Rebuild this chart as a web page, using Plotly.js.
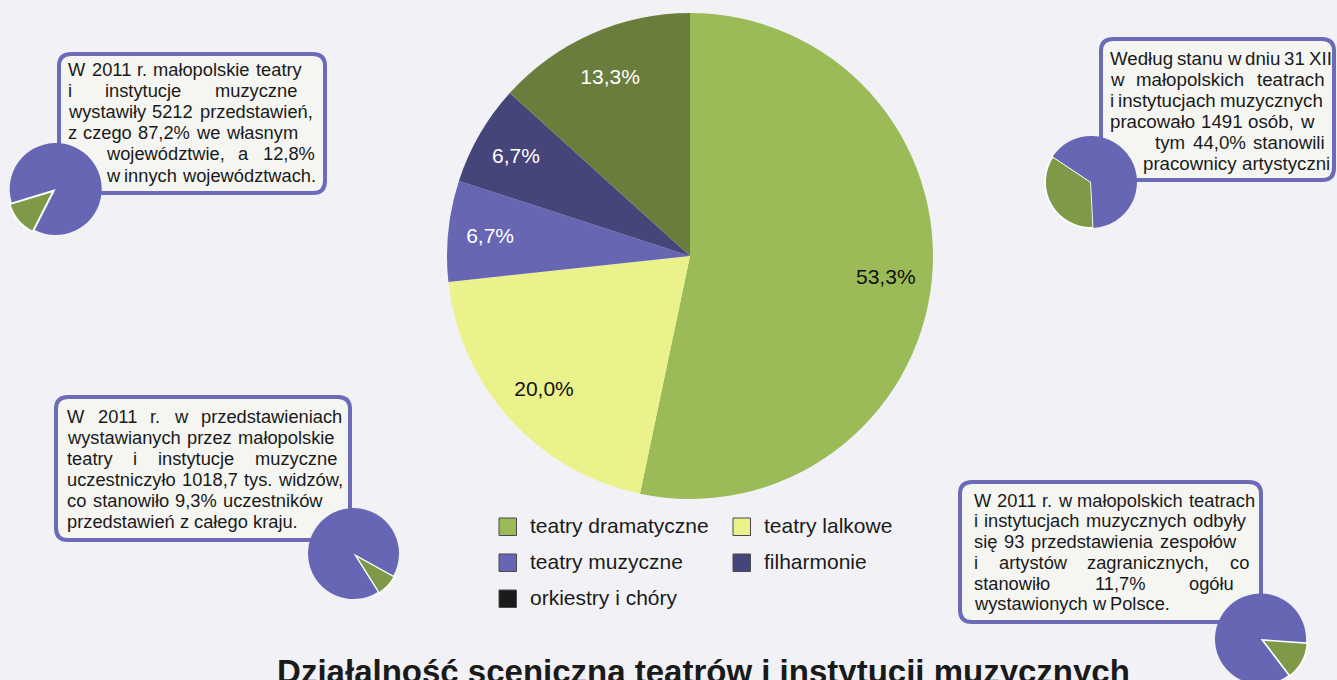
<!DOCTYPE html>
<html><head><meta charset="utf-8">
<script src="https://cdn.plot.ly/plotly-3.0.1.min.js"></script>
<style>html,body{margin:0;padding:0;overflow:hidden;background:#f2f2f6}#chart{width:1337px;height:690px}</style>
</head><body><div id="chart"></div><script>
// ---------- data ----------
const categories = ['teatry dramatyczne', 'teatry lalkowe', 'teatry muzyczne', 'filharmonie', 'orkiestry i chóry'];
const shares = [53.3, 20.0, 6.7, 6.7, 13.3];
const sliceColors = ['#9bbb59', '#ecf28b', '#6766b3', '#45457a', '#6a7d3d'];
const legendColors = ['#9bbb59', '#ecf28b', '#6766b3', '#45457a', '#1a1a1a'];
const labelColors = ['#111111', '#111111', '#ffffff', '#ffffff', '#ffffff'];

const smallLabels = ['wyróżnione', 'pozostałe'];
const performancesShares = [12.8, 87.2];
const staffShares = [35.2, 64.8];
const audienceShares = [8.0, 92.0];
const foreignShares = [13.5, 86.5];
const smallColors = ['#7e9a48', '#6766b4'];

const titleText = 'Działalność sceniczna teatrów i instytucji muzycznych';
const box1Lines = ['W 2011 r. małopolskie teatry', 'i instytucje muzyczne', 'wystawiły 5212 przedstawień,', 'z czego 87,2% we własnym', 'województwie, a 12,8%', 'w innych województwach.'];
const box2Lines = ['Według stanu w dniu 31 XII', 'w małopolskich teatrach', 'i instytucjach muzycznych', 'pracowało 1491 osób, w', 'tym 44,0% stanowili', 'pracownicy artystyczni'];
const box3Lines = ['W 2011 r. w przedstawieniach', 'wystawianych przez małopolskie', 'teatry i instytucje muzyczne', 'uczestniczyło 1018,7 tys. widzów,', 'co stanowiło 9,3% uczestników', 'przedstawień z całego kraju.'];
const box4Lines = ['W 2011 r. w małopolskich teatrach', 'i instytucjach muzycznych odbyły', 'się 93 przedstawienia zespołów', 'i artystów zagranicznych, co', 'stanowiło 11,7% ogółu', 'wystawionych w Polsce.'];

// ---------- layout helpers ----------
const W = 1337, H = 690;
const px = x => x / W, py = y => 1 - y / H;
const FONT = '"Liberation Sans", Arial, sans-serif';
const ctx = document.createElement('canvas').getContext('2d');

function domainFor(cx, cy, r, pull) {
  const R = r * (1 + (pull || 0));
  return {x: [px(cx - R), px(cx + R)], y: [py(cy + R), py(cy - R)]};
}
function rrect(x0, y0, x1, y1, r) {
  const P = (x, y) => px(x) + ',' + py(y);
  return 'M' + P(x0 + r, y0) + ' L' + P(x1 - r, y0) + ' Q' + P(x1, y0) + ' ' + P(x1, y0 + r) +
    ' L' + P(x1, y1 - r) + ' Q' + P(x1, y1) + ' ' + P(x1 - r, y1) +
    ' L' + P(x0 + r, y1) + ' Q' + P(x0, y1) + ' ' + P(x0, y1 - r) +
    ' L' + P(x0, y0 + r) + ' Q' + P(x0, y0) + ' ' + P(x0 + r, y0) + ' Z';
}

const annotations = [];
function addTextBlock(lines, spec) {
  const fs = spec.fs;
  ctx.font = fs + 'px "Liberation Sans"';
  const spaceW = ctx.measureText(' ').width;
  lines.forEach((line, i) => {
    const words = line.split(' ');
    const widths = words.map(w => ctx.measureText(w).width);
    const sum = widths.reduce((a, b) => a + b, 0);
    const x0 = spec.x0[i], x1 = spec.x1[i];
    let gap = spaceW;
    if (x1 != null && words.length > 1) gap = Math.max(spaceW * 0.6, (x1 - x0 - sum) / (words.length - 1));
    const base = spec.base + i * spec.lh;
    let pos = x0;
    words.forEach((w, k) => {
      annotations.push({
        xref: 'paper', yref: 'paper', x: px(pos), y: py(base - 0.35 * fs),
        xanchor: 'left', yanchor: 'middle', showarrow: false, text: w,
        borderpad: 0, borderwidth: 0,
        font: {family: FONT, size: fs, color: '#1a1a1a'}
      });
      pos += widths[k] + gap;
    });
  });
}

addTextBlock(box1Lines, {fs: 18.3, x0: [68, 68, 68, 68, 106, 106], x1: [302, 297, 313, 297, 315, null], base: 76, lh: 21.1});
addTextBlock(box2Lines, {fs: 18.7, x0: [1110, 1110, 1110, 1110, 1155, 1143], x1: [1332, 1325, 1323, 1313, 1325, null], base: 65, lh: 21});
addTextBlock(box3Lines, {fs: 18.3, x0: [67, 67, 67, 67, 67, 67], x1: [342, 335, 337, 342, 323, null], base: 423.3, lh: 21});
addTextBlock(box4Lines, {fs: 18.3, x0: [974, 974, 974, 974, 974, 974], x1: [1255, 1246, 1236, 1249, 1234, null], base: 506.7, lh: 20.7});

const shapes = [];
const boxLine = {color: '#6b6bb8', width: 4};
const boxFill = '#f5f6f2';
[[59, 54, 325, 193], [1101, 39, 1334, 180], [56, 397, 350, 540], [960, 482, 1261, 622]].forEach(b => {
  shapes.push({type: 'path', xref: 'paper', yref: 'paper', path: rrect(b[0], b[1], b[2], b[3], 12),
    line: boxLine, fillcolor: boxFill, layer: 'below'});
});

// custom legend (2 columns x 3 rows)
const legCols = [499, 733], legRows = [518, 554, 590], legSize = 17.5, legFS = 21;
categories.forEach((c, i) => {
  const col = i % 2, row = Math.floor(i / 2);
  const sx = legCols[col], sy = legRows[row];
  shapes.push({type: 'rect', xref: 'paper', yref: 'paper', x0: px(sx), x1: px(sx + legSize), y0: py(sy + legSize), y1: py(sy),
    line: {color: '#4a4a4a', width: 1}, fillcolor: legendColors[i], layer: 'below'});
  annotations.push({xref: 'paper', yref: 'paper', x: px(sx + 31), y: py(sy + 15 - 0.35 * legFS),
    xanchor: 'left', yanchor: 'middle', showarrow: false, text: c, borderpad: 0, borderwidth: 0,
    font: {family: FONT, size: legFS, color: '#1a1a1a'}});
});

// ---------- traces ----------
const mainDomain = domainFor(690, 256, 243, 0);
const labelsText = shares.map(v => v.toFixed(1).replace('.', ',') + '%');
const traces = [
  {type: 'pie', values: shares, labels: categories, sort: false, direction: 'clockwise', rotation: 0,
    marker: {colors: sliceColors, line: {width: 0}}, textinfo: 'none', hoverinfo: 'label+percent',
    domain: mainDomain, showlegend: false},
  {type: 'pie', values: shares, labels: categories, sort: false, direction: 'clockwise', rotation: 0, hole: 0.62,
    marker: {colors: shares.map(() => 'rgba(0,0,0,0)'), line: {width: 0}}, text: labelsText, textinfo: 'text',
    textposition: 'inside', insidetextorientation: 'horizontal',
    textfont: {family: FONT, size: 21, color: labelColors}, hoverinfo: 'skip',
    domain: mainDomain, showlegend: false}
];
function smallPie(vals, cx, cy, r, rot, pull) {
  return {type: 'pie', values: vals, labels: smallLabels, sort: false, direction: 'clockwise', rotation: rot,
    pull: [pull, 0], marker: {colors: smallColors, line: {color: '#ffffff', width: [1.8, 0]}},
    textinfo: 'none', hoverinfo: 'percent', domain: domainFor(cx, cy, r, pull), showlegend: false};
}
traces.push(smallPie(performancesShares, 55.7, 189, 46, 207, 0.06));
traces.push(smallPie(staffShares, 1091, 182, 46, 177, 0));
traces.push(smallPie(audienceShares, 353.5, 553.5, 45.5, 119, 0.04));
traces.push(smallPie(foreignShares, 1260.5, 639, 45.5, 94, 0.04));

const layout = {
  width: W, height: H, margin: {l: 0, r: 0, t: 0, b: 0},
  paper_bgcolor: '#f2f2f6', plot_bgcolor: '#f2f2f6',
  showlegend: false,
  title: {text: '<b>' + titleText + '</b>', x: px(703.5), xanchor: 'center', y: py(671.5), yanchor: 'middle',
    font: {family: FONT, size: 33, color: '#1a1a1a'}},
  shapes: shapes, annotations: annotations
};
Plotly.newPlot('chart', traces, layout, {displayModeBar: false, staticPlot: true});
</script></body></html>
